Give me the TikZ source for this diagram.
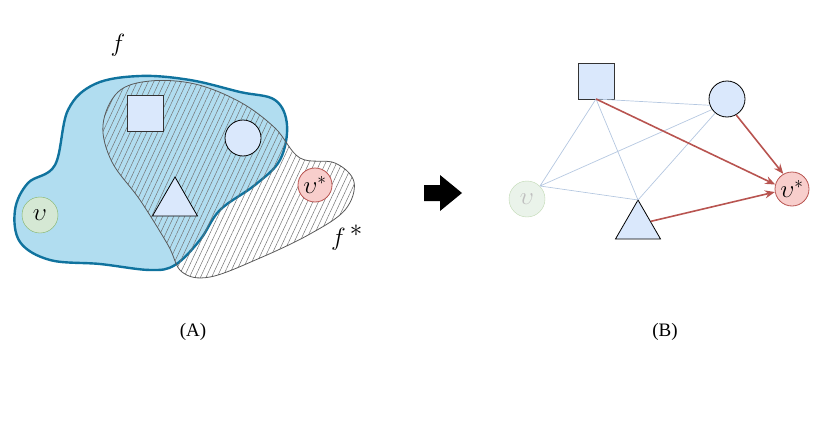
\documentclass[tikz,border=0pt]{standalone}
\usepackage{fontspec}
\setmainfont{Liberation Serif}
\usetikzlibrary{shapes.geometric,patterns.meta,arrows.meta}
\definecolor{sqfill}{HTML}{DAE8FC}
\definecolor{blobblue}{HTML}{B1DDF0}
\definecolor{blobline}{HTML}{10739E}
\definecolor{gfill}{HTML}{D5E8D4}
\definecolor{gline}{HTML}{82B366}
\definecolor{rfill}{HTML}{F8CECC}
\definecolor{rline}{HTML}{B85450}
\definecolor{edgeblue}{HTML}{B4C7E0}
\tikzset{
 sq/.style={draw=black!80,fill=sqfill,minimum size=36pt,inner sep=0pt,line width=0.8pt},
 circ/.style={circle,draw=black,fill=sqfill,minimum size=36pt,inner sep=0pt,line width=0.8pt},
 tri/.style={regular polygon,regular polygon sides=3,draw=black,fill=sqfill,minimum size=52pt,inner sep=0pt,line width=0.8pt},
 vnode/.style={circle,draw=gline,fill=gfill,minimum size=36pt,inner sep=0pt,font=\fontsize{26}{28}\selectfont},
 vstar/.style={circle,draw=rline,fill=rfill,minimum size=34pt,inner sep=0pt,font=\fontsize{24}{26}\selectfont,line width=0.8pt},
 light/.style={edgeblue,line width=0.7pt},
 red/.style={rline,line width=1.6pt,-{Stealth[length=10pt,width=8pt]}},
 flabel/.style={font=\fontsize{34}{36}\selectfont},
 captext/.style={font=\fontsize{19}{21}\selectfont}
}
\begin{document}
\begin{tikzpicture}[x=1pt,y=-1pt]
\useasboundingbox (0,0) rectangle (830,447);
\draw[line width=2.4pt,blobline,fill=blobblue] plot[smooth cycle,tension=0.6] coordinates{
(15,210)(28,183)(55,165)(68,110)(95,84)(140,76)(190,80)(240,92)(275,100)(287,125)(280,160)(255,185)(220,210)(200,240)(175,265)(150,270)(100,264)(50,260)(20,242)};
\draw[black!65,line width=0.8pt,pattern={Lines[angle=65,distance=5pt,line width=0.5pt]},pattern color=black!55] plot[smooth cycle,tension=0.6] coordinates{
(103,125)(118,92)(150,81)(195,84)(240,102)(275,128)(300,158)(335,163)(354,182)(345,210)(310,234)(260,258)(210,277)(182,272)(168,245)(140,200)(112,162)};
\node[sq] (aS) at (145,113) {};
\node[circ] (aC) at (243,138) {};
\node[tri] (aT) at (175,203) {};
\node[vnode] (aV) at (40,215) {$\upsilon$};
\node[vstar] (aVs) at (315,185) {$\upsilon^*$};
\node[flabel] (fl) at (118,45) {$f$};
\node[flabel] (fsl) at (347,238) {$f^{\,*}$};
\node[captext] (A) at (193,332) {(A)};
\fill[black] (424,185) -- (440,185) -- (440,175) -- (462,193) -- (440,211) -- (440,201) -- (424,201) -- cycle;
\node[sq] (S) at (596,81) {};
\node[circ] (C) at (727,99) {};
\node[tri] (T) at (638,226) {};
\node[vnode,draw=gline!50,fill=gfill!50,text=black!25] (V) at (527,199) {$\upsilon$};
\node[vstar] (Vs) at (792,189) {$\upsilon^*$};
\coordinate (Sb) at (596,99);
\coordinate (Ta) at (638,200);
\coordinate (Vc) at (540,186);
\draw[light] (Sb)--(Vc) (Sb)--(Ta) (Sb)--(C.200) (C.215)--(Vc) (C.230)--(Ta) (Vc)--(Ta);
\draw[red] (Sb)--(Vs.165);
\draw[red] (C.-60)--(Vs.120);
\draw[red] (T.20)--(Vs.190);
\node[captext] (B) at (665,332) {(B)};
\end{tikzpicture}
\end{document}
